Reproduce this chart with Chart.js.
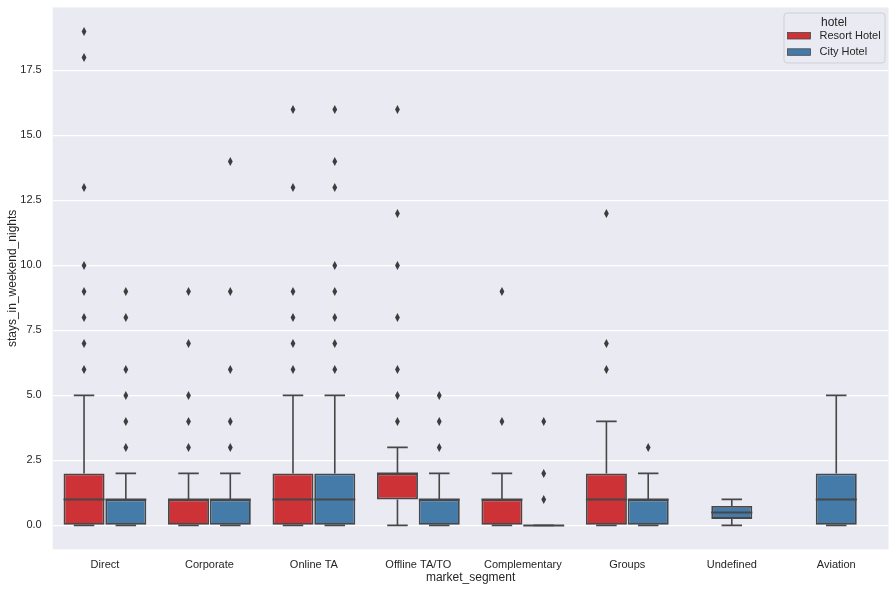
<!DOCTYPE html>
<html>
<head>
<meta charset="utf-8">
<script src="https://cdn.jsdelivr.net/npm/chart.js@4.4.0/dist/chart.umd.min.js"></script>
<style>
  html, body { margin: 0; padding: 0; background: #fff; }
</style>
</head>
<body>
<canvas id="boxChart" width="896" height="591"></canvas>
<script>
const segments = ['Direct', 'Corporate', 'Online TA', 'Offline TA/TO', 'Complementary', 'Groups', 'Undefined', 'Aviation'];
const hotels = ['Resort Hotel', 'City Hotel'];
// [lower whisker, q1, median, q3, upper whisker]
const resortStats = [[0, 0, 1, 2, 5], [0, 0, 1, 1, 2], [0, 0, 1, 2, 5], [0, 1, 2, 2, 3], [0, 0, 1, 1, 2], [0, 0, 1, 2, 4], null, null];
const cityStats = [[0, 0, 1, 1, 2], [0, 0, 1, 1, 2], [0, 0, 1, 2, 5], [0, 0, 1, 1, 2], [0, 0, 0, 0, 0], [0, 0, 1, 1, 2], [0, 0.25, 0.5, 0.75, 1], [0, 0, 1, 2, 5]];
const resortOutliers = [[6, 7, 8, 9, 10, 13, 18, 19], [3, 4, 5, 7, 9], [6, 7, 8, 9, 13, 16], [4, 5, 6, 8, 10, 12, 16], [4, 9], [6, 7, 12], [], []];
const cityOutliers = [[3, 4, 5, 6, 8, 9], [3, 4, 6, 9, 14], [6, 7, 8, 9, 10, 13, 14, 16], [3, 4, 5], [1, 2, 4], [3], [], []];
const yTicks = [0, 2.5, 5, 7.5, 10, 12.5, 15, 17.5];

const RED = '#cc3236';
const BLUE = '#457ba9';
const EDGE = '#474747';
const TEXT = '#262626';

const allStats = [resortStats, cityStats];
const allOutliers = [resortOutliers, cityOutliers];

Chart.defaults.font.family = "'Liberation Sans', Arial, sans-serif";
Chart.defaults.color = TEXT;

function diamond(c, x, y) {
    c.beginPath();
    c.moveTo(x, y - 4.5);
    c.lineTo(x + 2.4, y);
    c.lineTo(x, y + 4.5);
    c.lineTo(x - 2.4, y);
    c.closePath();
    c.fill();
}

const boxExtras = {
    id: 'boxExtras',
    beforeDraw(chart) {
        const a = chart.chartArea;
        const c = chart.ctx;
        c.save();
        c.fillStyle = '#eaeaf2';
        c.fillRect(a.left, a.top, a.right - a.left, a.bottom - a.top);
        c.restore();
    },
    beforeDatasetsDraw(chart) {
        // whiskers and caps, under the boxes
        const y = chart.scales.y;
        const c = chart.ctx;
        c.save();
        c.strokeStyle = EDGE;
        c.lineWidth = 1.6;
        allStats.forEach((stats, i) => {
            const meta = chart.getDatasetMeta(i);
            stats.forEach((s, j) => {
                if (!s) return;
                const bar = meta.data[j];
                const x = bar.x, cap = bar.width / 4;
                c.beginPath();
                c.moveTo(x, y.getPixelForValue(s[0]));
                c.lineTo(x, y.getPixelForValue(s[1]));
                c.moveTo(x, y.getPixelForValue(s[3]));
                c.lineTo(x, y.getPixelForValue(s[4]));
                c.moveTo(x - cap, y.getPixelForValue(s[0]));
                c.lineTo(x + cap, y.getPixelForValue(s[0]));
                c.moveTo(x - cap, y.getPixelForValue(s[4]));
                c.lineTo(x + cap, y.getPixelForValue(s[4]));
                c.stroke();
            });
        });
        c.restore();
    },
    afterDatasetsDraw(chart) {
        const y = chart.scales.y;
        const c = chart.ctx;
        c.save();
        c.strokeStyle = EDGE;
        c.fillStyle = '#3d3d3d';
        c.lineWidth = 2;
        allStats.forEach((stats, i) => {
            const meta = chart.getDatasetMeta(i);
            stats.forEach((s, j) => {
                if (!s) return;
                const bar = meta.data[j];
                const half = bar.width / 2;
                const ym = y.getPixelForValue(s[2]);
                c.beginPath();
                c.moveTo(bar.x - half, ym);
                c.lineTo(bar.x + half, ym);
                c.stroke();
                allOutliers[i][j].forEach(v => diamond(c, bar.x, y.getPixelForValue(v)));
            });
        });
        c.restore();
    },
    afterDraw(chart) {
        // legend box in the top right corner
        const c = chart.ctx;
        const a = chart.chartArea;
        const L = a.right - 105, T = a.top + 5, W = 101, H = 50;
        c.save();
        c.beginPath();
        c.roundRect(L + 0.5, T + 0.5, W, H, 3);
        c.fillStyle = 'rgba(234,234,242,0.8)';
        c.fill();
        c.strokeStyle = '#cfcfd4';
        c.lineWidth = 1;
        c.stroke();
        c.fillStyle = TEXT;
        c.textBaseline = 'middle';
        c.textAlign = 'center';
        c.font = "12px 'Liberation Sans', Arial, sans-serif";
        c.fillText('hotel', L + W / 2, T + 10);
        c.textAlign = 'left';
        c.font = "11px 'Liberation Sans', Arial, sans-serif";
        [RED, BLUE].forEach((col, k) => {
            const cy = T + 23 + k * 16.3;
            c.fillStyle = col;
            c.fillRect(L + 4, cy - 3, 23, 6.5);
            c.strokeStyle = EDGE;
            c.lineWidth = 0.8;
            c.strokeRect(L + 4, cy - 3, 23, 6.5);
            c.fillStyle = TEXT;
            c.fillText(hotels[k], L + 36, cy + 0.5);
        });
        c.restore();
    }
};

const ctx = document.getElementById('boxChart').getContext('2d');
new Chart(ctx, {
    type: 'bar',
    data: {
        labels: segments,
        datasets: [
            {
                label: hotels[0],
                data: resortStats.map(s => s ? [s[1], s[3]] : null),
                backgroundColor: RED,
                borderColor: EDGE,
                borderWidth: 1.8,
                borderSkipped: false,
                skipNull: true
            },
            {
                label: hotels[1],
                data: cityStats.map(s => s ? [s[1], s[3]] : null),
                backgroundColor: BLUE,
                borderColor: EDGE,
                borderWidth: 1.8,
                borderSkipped: false,
                skipNull: true
            }
        ]
    },
    options: {
        responsive: false,
        animation: false,
        devicePixelRatio: 1,
        datasets: {
            bar: {
                categoryPercentage: 0.8,
                barPercentage: 1.0,
                maxBarThickness: 41
            }
        },
        layout: { padding: { top: 7.5, right: 7.5, left: 0, bottom: 0 } },
        plugins: {
            legend: { display: false },
            tooltip: { enabled: false }
        },
        scales: {
            x: {
                grid: { display: false },
                border: { display: false },
                ticks: { font: { size: 11 }, color: TEXT, padding: 1, maxRotation: 0 },
                title: {
                    display: true,
                    text: 'market_segment',
                    font: { size: 12 },
                    color: TEXT,
                    padding: { top: 0, bottom: 6 }
                },
                afterFit: s => { s.height = 41.7; s.paddingLeft = 0; s.paddingRight = 0; }
            },
            y: {
                min: -0.92,
                max: 19.92,
                afterBuildTicks: s => { s.ticks = yTicks.map(v => ({ value: v })); },
                grid: { color: '#ffffff', lineWidth: 1.2, drawTicks: false },
                border: { display: false },
                ticks: {
                    font: { size: 11 },
                    color: TEXT,
                    padding: 11,
                    callback: v => Number(v).toFixed(1)
                },
                title: {
                    display: true,
                    text: 'stays_in_weekend_nights',
                    font: { size: 12 },
                    color: TEXT,
                    padding: { top: 5, bottom: 0 }
                },
                afterFit: s => { s.width = 52.7; s.paddingTop = 0; s.paddingBottom = 0; }
            }
        }
    },
    plugins: [boxExtras]
});
</script>
</body>
</html>
